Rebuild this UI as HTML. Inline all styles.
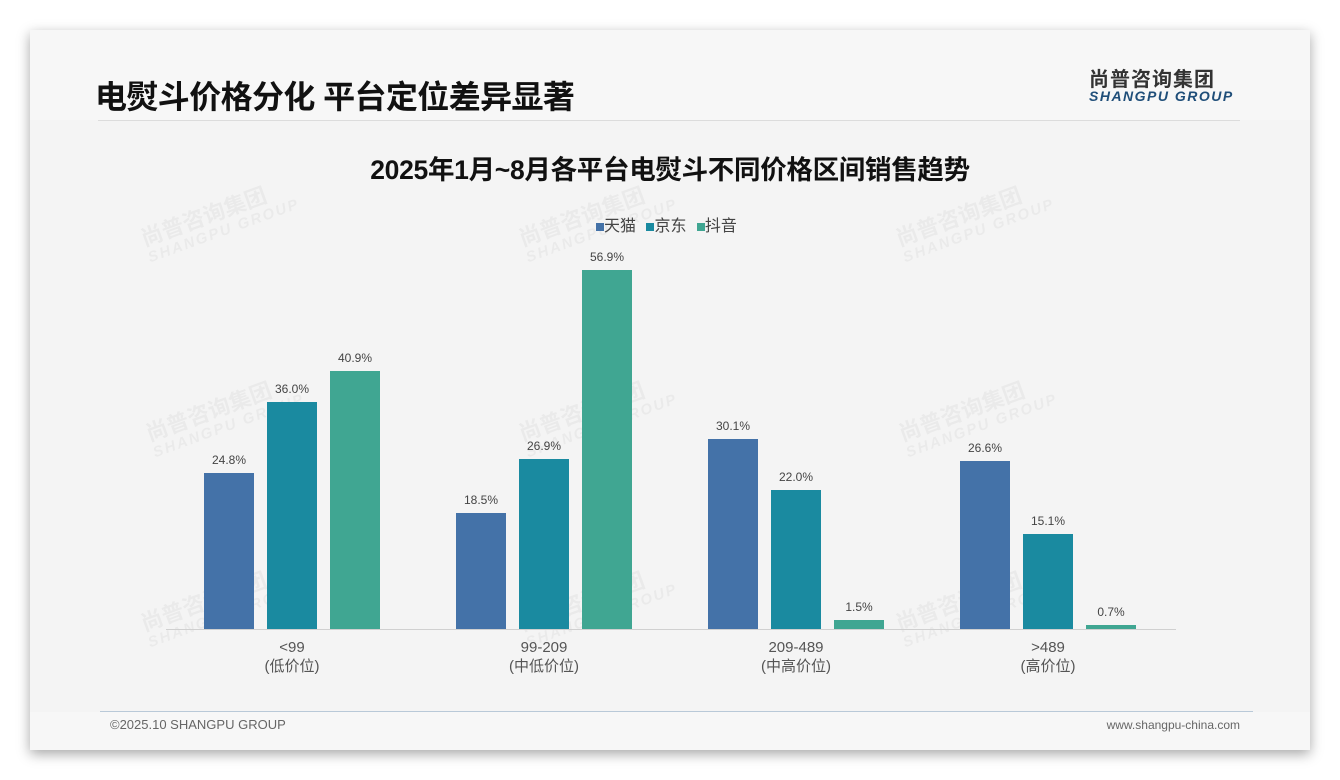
<!DOCTYPE html>
<html><head><meta charset="utf-8"><style>
body{margin:0;width:1340px;height:780px;background:#fff;position:relative;overflow:hidden;font-family:"Liberation Sans","Noto Sans CJK SC",sans-serif}
.card{position:absolute;left:30px;top:30px;width:1280px;height:720px;background:#f4f4f4;box-shadow:0 4px 12px rgba(0,0,0,.35)}
.t{position:absolute;white-space:nowrap}
.wm{position:absolute;color:rgba(0,0,0,0.04);font-weight:bold;transform:rotate(-20deg);line-height:1.1;font-size:22px}
.wm span{display:block;font-size:15px;font-style:italic;letter-spacing:2px}
</style></head><body>
<div class="card">
<div style="position:absolute;left:0;top:0;width:1280px;height:90px;background:#f7f7f7"></div>
<div style="position:absolute;left:68px;top:90px;width:1142px;height:1px;background:#dcdcdc"></div>
<div style="position:absolute;left:0;top:682px;width:1280px;height:38px;background:#f7f7f7"></div>
<div style="position:absolute;left:70px;top:681px;width:1153px;height:1px;background:#b9c9d8"></div>
</div>
<div class="wm" style="left:140px;top:200px">尚普咨询集团<span>SHANGPU GROUP</span></div>
<div class="wm" style="left:518px;top:200px">尚普咨询集团<span>SHANGPU GROUP</span></div>
<div class="wm" style="left:895px;top:200px">尚普咨询集团<span>SHANGPU GROUP</span></div>
<div class="wm" style="left:145px;top:395px">尚普咨询集团<span>SHANGPU GROUP</span></div>
<div class="wm" style="left:518px;top:395px">尚普咨询集团<span>SHANGPU GROUP</span></div>
<div class="wm" style="left:898px;top:395px">尚普咨询集团<span>SHANGPU GROUP</span></div>
<div class="wm" style="left:140px;top:585px">尚普咨询集团<span>SHANGPU GROUP</span></div>
<div class="wm" style="left:518px;top:585px">尚普咨询集团<span>SHANGPU GROUP</span></div>
<div class="wm" style="left:895px;top:585px">尚普咨询集团<span>SHANGPU GROUP</span></div>

<div class="t" style="left:95px;top:72px;font-size:32px;font-weight:bold;color:#111;letter-spacing:-0.6px">电熨斗价格分化 平台定位差异显著</div>
<div class="t" style="left:1089px;top:63px;font-size:20px;font-weight:bold;color:#333;letter-spacing:1px">尚普咨询集团</div>
<div class="t" style="left:1089px;top:88px;font-size:14px;font-weight:bold;font-style:italic;color:#1f4e79;letter-spacing:1.5px">SHANGPU GROUP</div>
<div class="t" style="left:0;width:1340px;text-align:center;top:148px;font-size:26.5px;font-weight:bold;color:#111;letter-spacing:-0.3px">2025年1月~8月各平台电熨斗不同价格区间销售趋势</div>
<div class="t" style="left:596px;top:212px;font-size:16px;color:#444">
<span style="display:inline-block;width:8px;height:8px;background:#4472a8"></span>天猫
<span style="display:inline-block;width:8px;height:8px;background:#1a8aa0;margin-left:6px"></span>京东
<span style="display:inline-block;width:8px;height:8px;background:#40a692;margin-left:6px"></span>抖音</div>

<svg style="position:absolute;left:0;top:0" width="1340" height="780">
<g font-family="Liberation Sans,sans-serif" font-size="12" fill="#444" text-anchor="middle">
<rect x="204" y="473" width="50" height="156" fill="#4472a8"/><text x="229" y="464">24.8%</text>
<rect x="267" y="402" width="50" height="227" fill="#1a8aa0"/><text x="292" y="393">36.0%</text>
<rect x="330" y="371" width="50" height="258" fill="#40a692"/><text x="355" y="362">40.9%</text>
<rect x="456" y="513" width="50" height="116" fill="#4472a8"/><text x="481" y="504">18.5%</text>
<rect x="519" y="459" width="50" height="170" fill="#1a8aa0"/><text x="544" y="450">26.9%</text>
<rect x="582" y="270" width="50" height="359" fill="#40a692"/><text x="607" y="261">56.9%</text>
<rect x="708" y="439" width="50" height="190" fill="#4472a8"/><text x="733" y="430">30.1%</text>
<rect x="771" y="490" width="50" height="139" fill="#1a8aa0"/><text x="796" y="481">22.0%</text>
<rect x="834" y="620" width="50" height="9" fill="#40a692"/><text x="859" y="611">1.5%</text>
<rect x="960" y="461" width="50" height="168" fill="#4472a8"/><text x="985" y="452">26.6%</text>
<rect x="1023" y="534" width="50" height="95" fill="#1a8aa0"/><text x="1048" y="525">15.1%</text>
<rect x="1086" y="625" width="50" height="4" fill="#40a692"/><text x="1111" y="616">0.7%</text>
<line x1="166" y1="629.5" x2="1176" y2="629.5" stroke="#d0d0d0"/>
<g font-size="15" fill="#555" font-family="Liberation Sans,Noto Sans CJK SC,sans-serif">
<text x="292" y="652">&lt;99</text><text x="292" y="671">(低价位)</text>
<text x="544" y="652">99-209</text><text x="544" y="671">(中低价位)</text>
<text x="796" y="652">209-489</text><text x="796" y="671">(中高价位)</text>
<text x="1048" y="652">&gt;489</text><text x="1048" y="671">(高价位)</text>
</g></g></svg>
<div class="t" style="left:110px;top:717px;font-size:13px;color:#666">©2025.10 SHANGPU GROUP</div>
<div class="t" style="right:100px;top:718px;font-size:12px;color:#666">www.shangpu-china.com</div>
</body></html>
